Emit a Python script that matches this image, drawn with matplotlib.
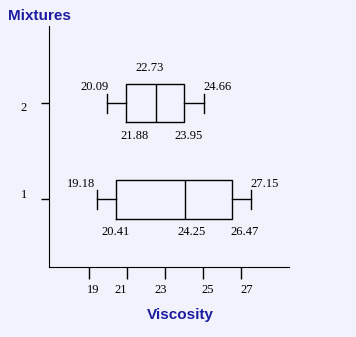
import matplotlib
matplotlib.use("Agg")
import matplotlib.pyplot as plt
from matplotlib.transforms import ScaledTranslation

# Mixture ids
mixtures = [1, 2]
# Box positions as drawn in the picture
mins = [19.46, 19.98]
q1s = [20.43, 20.96]
medians = [24.03, 22.53]
q3s = [26.52, 24.01]
maxs = [27.52, 25.03]
# Values printed next to each box
label_min = ["19.18", "20.09"]
label_q1 = ["20.41", "21.88"]
label_med = ["24.25", "22.73"]
label_q3 = ["26.47", "23.95"]
label_max = ["27.15", "24.66"]
xticks = [19, 21, 23, 25, 27]

bg = "#f2f2fc"
navy = "#1c1ca0"
W, H = 356, 337
fig = plt.figure(figsize=(W / 100, H / 100), dpi=100, facecolor=bg)
ax = fig.add_axes([49.3 / W, 1 - 266.7 / H, (288.5 - 49.3) / W, (266.7 - 26) / H], facecolor=bg)

stats = []
for m, lo, a, med, b, hi in zip(mixtures, mins, q1s, medians, q3s, maxs):
    stats.append(dict(med=med, q1=a, q3=b, whislo=lo, whishi=hi, fliers=[], label=str(m)))

lp = dict(color="black", lw=1)
ax.bxp(stats, positions=mixtures, vert=False, widths=0.40, capwidths=0.2,
       boxprops=lp, medianprops=lp, whiskerprops=lp, capprops=lp)

ax.set_xlim(16.94, 29.47)
ax.set_ylim(0.298, 2.805)
ax.set_xticks(xticks)
ax.set_xticklabels([str(t) for t in xticks], family="Liberation Serif", fontsize=9)
ax.set_yticks(mixtures)
ax.set_yticklabels([str(m) for m in mixtures], family="Liberation Serif", fontsize=9)
ax.tick_params(axis="x", length=8.6, width=1, pad=4, direction="out")
ax.tick_params(axis="y", length=5.8, width=1, pad=10.4, direction="out")
for s in ["top", "right"]:
    ax.spines[s].set_visible(False)

# small shifts of the tick labels as in the reference
shifts_px = [5, -5.7, -4.3, 4.7, 5.8]
for lab, dx in zip(ax.get_xticklabels(), shifts_px):
    lab.set_transform(lab.get_transform() + ScaledTranslation(dx / 100, 0, fig.dpi_scale_trans))
yshifts_px = [6, -3.7]
for lab, dy in zip(ax.get_yticklabels(), yshifts_px):
    lab.set_transform(lab.get_transform() + ScaledTranslation(0, dy / 100, fig.dpi_scale_trans))

tf = dict(family="Liberation Serif", fontsize=9, color="black",
          textcoords="offset pixels", ha="center", va="center")
# mixture 1
y = mixtures[0]
ax.annotate(label_min[0], (mins[0], y), xytext=(-16, 15), **tf)
ax.annotate(label_max[0], (maxs[0], y), xytext=(13.7, 15), **tf)
ax.annotate(label_q1[0], (q1s[0], y), xytext=(-0.2, -33), **tf)
ax.annotate(label_med[0], (medians[0], y), xytext=(7, -33), **tf)
ax.annotate(label_q3[0], (q3s[0], y), xytext=(12.9, -33), **tf)
# mixture 2
y = mixtures[1]
ax.annotate(label_min[1], (mins[1], y), xytext=(-12.3, 16), **tf)
ax.annotate(label_max[1], (maxs[1], y), xytext=(13.8, 16), **tf)
ax.annotate(label_med[1], (medians[1], y), xytext=(-6, 35), **tf)
ax.annotate(label_q1[1], (q1s[1], y), xytext=(9, -32.5), **tf)
ax.annotate(label_q3[1], (q3s[1], y), xytext=(4, -32.5), **tf)

fig.text(39.5 / W, 1 - 15.5 / H, "Mixtures", ha="center", va="center", family="Liberation Sans",
         fontweight="bold", fontsize=11, color=navy)
fig.text(180.5 / W, 1 - 314.5 / H, "Viscosity", ha="center", va="center", family="Liberation Sans",
         fontweight="bold", fontsize=11, color=navy)

fig.savefig("out.png", dpi=100, facecolor=bg)
